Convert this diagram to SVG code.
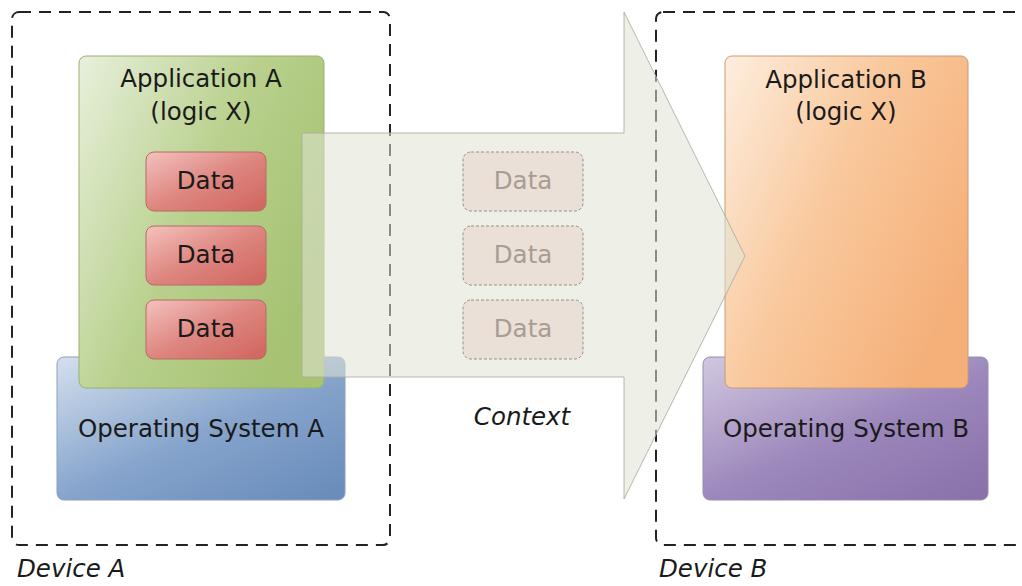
<svg xmlns="http://www.w3.org/2000/svg" width="1022" height="586" viewBox="0 0 1022 586">
<defs>
<linearGradient id="gGreen" x1="0" y1="0" x2="1" y2="0.6">
<stop offset="0" stop-color="#e8f0dc"/><stop offset="0.55" stop-color="#b8d08c"/><stop offset="1" stop-color="#a6c272"/>
</linearGradient>
<linearGradient id="gBlue" x1="0" y1="0" x2="0.9" y2="1">
<stop offset="0" stop-color="#d4e0ee"/><stop offset="0.55" stop-color="#86a4cc"/><stop offset="1" stop-color="#6a8dbb"/>
</linearGradient>
<linearGradient id="gRed" x1="0" y1="0" x2="1" y2="1">
<stop offset="0" stop-color="#f4c2be"/><stop offset="0.5" stop-color="#de8680"/><stop offset="1" stop-color="#d0645e"/>
</linearGradient>
<linearGradient id="gOrange" x1="0" y1="0" x2="1" y2="0.6">
<stop offset="0" stop-color="#fdeedf"/><stop offset="0.5" stop-color="#f9c89c"/><stop offset="1" stop-color="#f5b07a"/>
</linearGradient>
<linearGradient id="gPurple" x1="0" y1="0" x2="0.9" y2="1">
<stop offset="0" stop-color="#d2c8e0"/><stop offset="0.55" stop-color="#9c88bc"/><stop offset="1" stop-color="#8a72aa"/>
</linearGradient>
<style>
.dev{fill:none;stroke:#222;stroke-width:2;stroke-dasharray:12 8}
.lbl{font-family:"DejaVu Sans","Open Sans",sans-serif;font-size:24.5px;fill:#1a1a1a;text-anchor:middle}
.dlbl{font-family:"DejaVu Sans","Open Sans",sans-serif;font-size:24.5px;font-style:italic;fill:#1a1a1a}
.box{stroke-width:1}
.ghost{fill:#e9ddd4;fill-opacity:0.85;stroke:#9a8e88;stroke-width:1;stroke-dasharray:3 2}
.gtxt{font-family:"DejaVu Sans","Open Sans",sans-serif;font-size:24.5px;fill:#a89c94;text-anchor:middle}
</style>
</defs>
<rect width="1022" height="586" fill="#ffffff"/>

<g id="deviceA">
<rect class="dev" x="12" y="12" width="378" height="533" rx="7"/>
<text class="dlbl" x="17" y="577">Device A</text>
</g>
<g id="deviceB">
<rect class="dev" x="656" y="12" width="380" height="533" rx="7"/>
<text class="dlbl" x="659" y="577">Device B</text>
</g>

<g id="osA">
<rect class="box" x="57" y="357" width="288" height="143" rx="7" fill="url(#gBlue)" stroke="#8aa0bc"/>
<text class="lbl" x="201" y="437">Operating System A</text>
</g>
<g id="appA">
<rect class="box" x="79" y="56" width="245" height="332" rx="7" fill="url(#gGreen)" stroke="#98b070"/>
<text class="lbl" x="201" y="87">Application A</text>
<text class="lbl" x="201" y="120">(logic X)</text>
</g>
<g id="dataA1">
<rect class="box" x="146" y="152" width="120" height="59" rx="8" fill="url(#gRed)" stroke="#b86a64"/>
<text class="lbl" x="206" y="189">Data</text>
</g>
<g id="dataA2">
<rect class="box" x="146" y="226" width="120" height="59" rx="8" fill="url(#gRed)" stroke="#b86a64"/>
<text class="lbl" x="206" y="263">Data</text>
</g>
<g id="dataA3">
<rect class="box" x="146" y="300" width="120" height="59" rx="8" fill="url(#gRed)" stroke="#b86a64"/>
<text class="lbl" x="206" y="337">Data</text>
</g>

<g id="osB">
<rect class="box" x="703" y="357" width="285" height="143" rx="7" fill="url(#gPurple)" stroke="#9a8ab0"/>
<text class="lbl" x="846" y="437">Operating System B</text>
</g>
<g id="appB">
<rect class="box" x="725" y="56" width="243" height="332" rx="7" fill="url(#gOrange)" stroke="#c89a7a"/>
<text class="lbl" x="846" y="88">Application B</text>
<text class="lbl" x="846" y="120">(logic X)</text>
</g>

<g id="connectors">
<path id="contextArrow" d="M302,133 H624 V12 L745,256 L624,499 V377 H302 Z" fill="#e0e3d5" fill-opacity="0.55" stroke="#a8ac9c" stroke-opacity="0.85" stroke-width="1"/>
<text class="dlbl" x="522" y="425" text-anchor="middle" font-size="24">Context</text>
</g>

<g id="dataG1">
<rect class="ghost" x="463" y="152" width="120" height="59" rx="8"/>
<text class="gtxt" x="523" y="189">Data</text>
</g>
<g id="dataG2">
<rect class="ghost" x="463" y="226" width="120" height="59" rx="8"/>
<text class="gtxt" x="523" y="263">Data</text>
</g>
<g id="dataG3">
<rect class="ghost" x="463" y="300" width="120" height="59" rx="8"/>
<text class="gtxt" x="523" y="337">Data</text>
</g>
</svg>
